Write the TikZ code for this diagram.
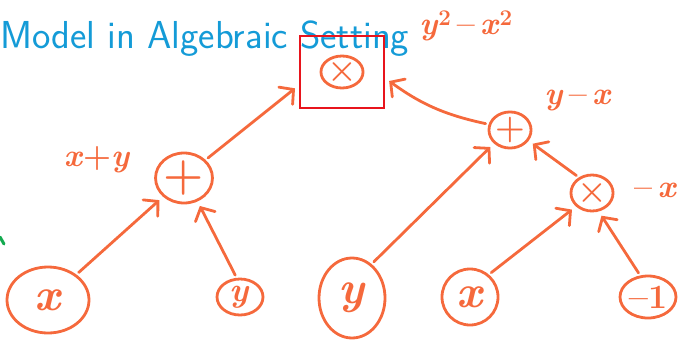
\documentclass[tikz,border=0pt]{standalone}
\usetikzlibrary{arrows.meta,shapes.geometric}
\definecolor{ink}{RGB}{245,105,60}
\definecolor{boxred}{RGB}{232,20,28}
\definecolor{titleblue}{RGB}{20,155,215}
\definecolor{mkgreen}{RGB}{20,170,80}
\newcommand{\vx}{\textit{x}}
\newcommand{\vy}{\textit{y}}
\begin{document}
\begin{tikzpicture}[x=1pt,y=-1pt,
  nd/.style={draw=ink,ellipse,line width=2.8pt,inner sep=0pt,text=ink,font=\bfseries\fontsize{34}{34}\selectfont},
  big/.style={font=\bfseries\fontsize{46}{46}\selectfont},
  lbl/.style={text=ink,inner sep=0pt,font=\bfseries\fontsize{32}{32}\selectfont},
  arr/.style={draw=ink,line width=2.8pt,line cap=round,shorten <=3pt,shorten >=5pt,
    -{Straight Barb[length=10pt,width=22pt,line cap=round]}}]
\useasboundingbox (0,0) rectangle (684,340);
\node[anchor=base west,inner sep=0pt,text=titleblue,font=\sffamily\fontsize{39}{39}\selectfont] (title) at (0,48) {Model in Algebraic Setting};
\draw[mkgreen,line width=3pt,line cap=round] (0,237) -- (4,244);
% nodes
\node[draw=boxred,line width=2.2pt,minimum width=84pt,minimum height=72pt] (box) at (342,72) {};
\node[nd,minimum width=34pt,minimum height=32pt] (mul) at (342,72) {×};
\node[nd,big,minimum width=56pt,minimum height=50pt] (plusL) at (184,178) {+};
\node[nd,big,minimum width=82pt,minimum height=66pt] (xL) at (48,300) {\vx};
\node[nd,minimum width=46pt,minimum height=36pt] (yS) at (240,297) {\vy};
\node[nd,big,minimum width=66pt,minimum height=80pt] (yB) at (352,298) {\vy};
\node[nd,minimum width=32pt,minimum height=34pt] (plusR) at (510,130) {+};
\node[nd,minimum width=38pt,minimum height=36pt] (mulR) at (592,193) {×};
\node[nd,big,minimum width=56pt,minimum height=56pt] (xR) at (470,297) {\vx};
\node[nd,minimum width=56pt,minimum height=42pt] (m1) at (648,297) {–1};
% labels
\node[lbl] (l1) at (97,160) {\vx+\vy};
\node[lbl] (l2) at (466,26) {\vy\textsuperscript{2}\,–\,\vx\textsuperscript{2}};
\node[lbl] (l3) at (578,100) {\vy\,–\,\vx};
\node[lbl,anchor=west] (l4) at (634,190) {–\,\vx};
% arrows
\draw[arr] (xL) -- (plusL);
\draw[arr] (yS.100) -- (plusL.-60);
\draw[arr] (plusL.40) -- (box.-163);
\draw[arr] (plusR.165) to[bend left=12] (box.-8);
\draw[arr] (yB.60) -- (plusR.-140);
\draw[arr] (xR.50) -- (mulR.-140);
\draw[arr] (m1.110) -- (mulR.-70);
\draw[arr] (mulR.130) -- (plusR.-30);
\end{tikzpicture}
\end{document}
